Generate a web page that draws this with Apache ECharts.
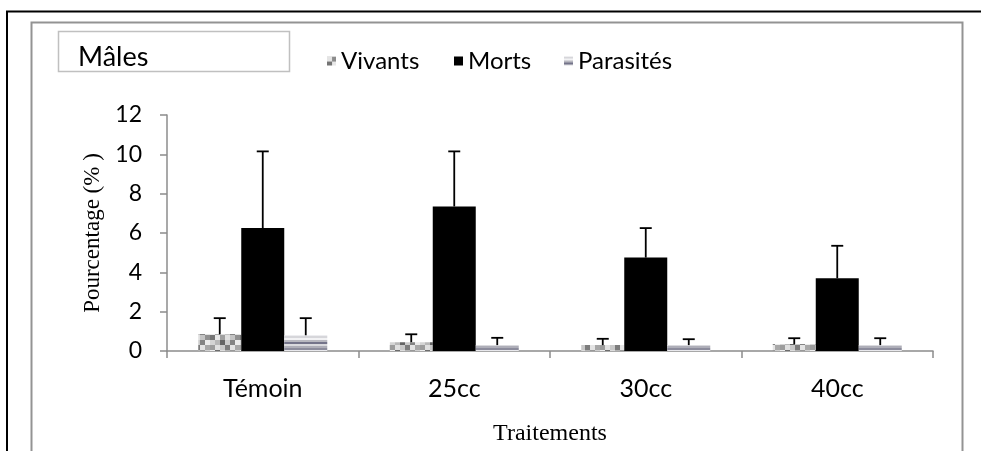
<!DOCTYPE html>
<html>
<head>
<meta charset="utf-8">
<script src="https://cdn.jsdelivr.net/npm/echarts@6/dist/echarts.min.js"></script>
<style>
  html, body { margin: 0; padding: 0; background: #fff; overflow: hidden; }
  #chart { width: 981px; height: 451px; }
</style>
</head>
<body>
<div id="chart"></div>
<script>
// Treatments and mean percentages of males (with standard deviations)
const categories = ['Témoin', '25cc', '30cc', '40cc'];
const vivants = [0.85, 0.45, 0.3, 0.35];
const morts = [6.25, 7.35, 4.75, 3.7];
const parasites = [0.8, 0.3, 0.3, 0.3];
const vivantsErr = [0.82, 0.4, 0.32, 0.3];
const mortsErr = [3.9, 2.8, 1.5, 1.65];
const parasitesErr = [0.87, 0.37, 0.3, 0.35];
const yTicks = [0, 2, 4, 6, 8, 10, 12];

const BAR_W = 43;
const FONT = 'Lato';

// mottled grey fill for "Vivants"
function mottledPattern() {
  const levels = [
    [0xe4, 0x8c, 0xd0, 0xb0, 0x5c, 0xdc],
    [0x74, 0xe8, 0xa0, 0xe0, 0xc4, 0x90],
    [0xd4, 0xb8, 0x64, 0xcc, 0x84, 0xec],
    [0x9c, 0xe0, 0xc8, 0x7c, 0xe4, 0xa8],
    [0xec, 0x6c, 0xdc, 0xb4, 0x98, 0xd0],
    [0xb8, 0xd4, 0x88, 0xe8, 0x70, 0xc0]
  ];
  const cell = 5;
  const c = document.createElement('canvas');
  c.width = c.height = cell * 6;
  const ctx = c.getContext('2d');
  levels.forEach((row, r) => row.forEach((g, k) => {
    ctx.fillStyle = `rgb(${g},${g},${g})`;
    ctx.fillRect(k * cell, r * cell, cell, cell);
  }));
  return { image: c, repeat: 'repeat' };
}

// horizontal metallic stripes for "Parasités"
function stripePattern() {
  const rows = ['#d6d6da', '#f2f2f4', '#b8b8c0', '#74748a', '#dadade', '#aeaeb8', '#8c8c9c', '#e8e8ec'];
  const c = document.createElement('canvas');
  c.width = 8; c.height = rows.length * 2;
  const ctx = c.getContext('2d');
  rows.forEach((col, i) => { ctx.fillStyle = col; ctx.fillRect(0, i * 2, 8, 2); });
  return { image: c, repeat: 'repeat' };
}

function errorBars(offset) {
  return function (params, api) {
    const cat = api.value(0), v = api.value(1), e = api.value(2);
    const base = api.coord([cat, v]);
    const top = api.coord([cat, v + e]);
    const x = base[0] + offset;
    const st = { stroke: '#000', lineWidth: 1.8 };
    return {
      type: 'group',
      children: [
        { type: 'line', shape: { x1: x, y1: base[1], x2: x, y2: top[1] }, style: st },
        { type: 'line', shape: { x1: x - 6, y1: top[1], x2: x + 6, y2: top[1] }, style: st }
      ]
    };
  };
}

const chart = echarts.init(document.getElementById('chart'), null, { renderer: 'canvas', width: 981, height: 451 });
const pViv = mottledPattern();
const pPar = stripePattern();

function errSeries(name, vals, errs, offset) {
  return {
    type: 'custom',
    name: name + ' err',
    renderItem: errorBars(offset),
    data: vals.map((v, i) => [i, v, errs[i]]),
    encode: { x: 0, y: 1 },
    z: 5,
    silent: true
  };
}

function legendAt(name, left) {
  return {
    data: [name],
    left: left, top: 44,
    icon: 'rect', itemWidth: 9, itemHeight: 9,
    textStyle: { fontFamily: FONT, fontSize: 24, color: '#000' }
  };
}

chart.setOption({
  animation: false,
  backgroundColor: '#fff',
  grid: { left: 167, top: 115, width: 766, height: 239 },
  legend: [
    legendAt('Vivants', 322),
    legendAt('Morts', 449),
    legendAt('Parasités', 559)
  ],
  xAxis: {
    type: 'category',
    data: categories,
    name: 'Traitements',
    nameLocation: 'middle',
    nameGap: 71,
    nameTextStyle: { fontFamily: 'Liberation Serif', fontSize: 24, color: '#000' },
    axisLine: { lineStyle: { color: '#8c8c8c', width: 1.5 } },
    axisTick: { show: true, length: 7, lineStyle: { color: '#8c8c8c', width: 1.5 } },
    axisLabel: { fontFamily: FONT, fontSize: 25, color: '#000', margin: 25 }
  },
  yAxis: {
    type: 'value',
    min: yTicks[0], max: yTicks[yTicks.length - 1], interval: 2,
    name: 'Pourcentage (% )',
    nameLocation: 'middle',
    nameGap: 61,
    nameRotate: 90,
    nameTextStyle: { fontFamily: 'Liberation Serif', fontSize: 23, color: '#000' },
    axisLine: { show: true, lineStyle: { color: '#8c8c8c', width: 1.5 } },
    axisTick: { show: true, length: 7, lineStyle: { color: '#8c8c8c', width: 1.5 } },
    splitLine: { show: false },
    axisLabel: { fontFamily: FONT, fontSize: 23, color: '#000', margin: 25 }
  },
  series: [
    { type: 'bar', name: 'Vivants', data: vivants, barWidth: BAR_W, barGap: '0%', itemStyle: { color: pViv } },
    { type: 'bar', name: 'Morts', data: morts, barWidth: BAR_W, barGap: '0%', itemStyle: { color: '#000' } },
    { type: 'bar', name: 'Parasités', data: parasites, barWidth: BAR_W, barGap: '0%', itemStyle: { color: pPar } },
    errSeries('Vivants', vivants, vivantsErr, -BAR_W),
    errSeries('Morts', morts, mortsErr, 0),
    errSeries('Parasités', parasites, parasitesErr, BAR_W)
  ],
  graphic: [
    // outer black frame (top and left edges)
    { type: 'polyline', shape: { points: [[7, 451], [7, 11.5], [981, 11.5]] }, style: { stroke: '#000', lineWidth: 2, fill: null } },
    // chart area frame
    { type: 'polyline', shape: { points: [[31.5, 451], [31.5, 22.5], [962.5, 22.5], [962.5, 451]] }, style: { stroke: '#939393', lineWidth: 2, fill: null } },
    // title box
    { type: 'rect', shape: { x: 58.5, y: 31.5, width: 231, height: 40 }, style: { stroke: '#c0c0c0', lineWidth: 1.5, fill: '#fff' } },
    { type: 'text', left: 78, top: 44, style: { text: 'Mâles', fontFamily: FONT, fontSize: 27, fill: '#000' } }
  ]
});
</script>
</body>
</html>
